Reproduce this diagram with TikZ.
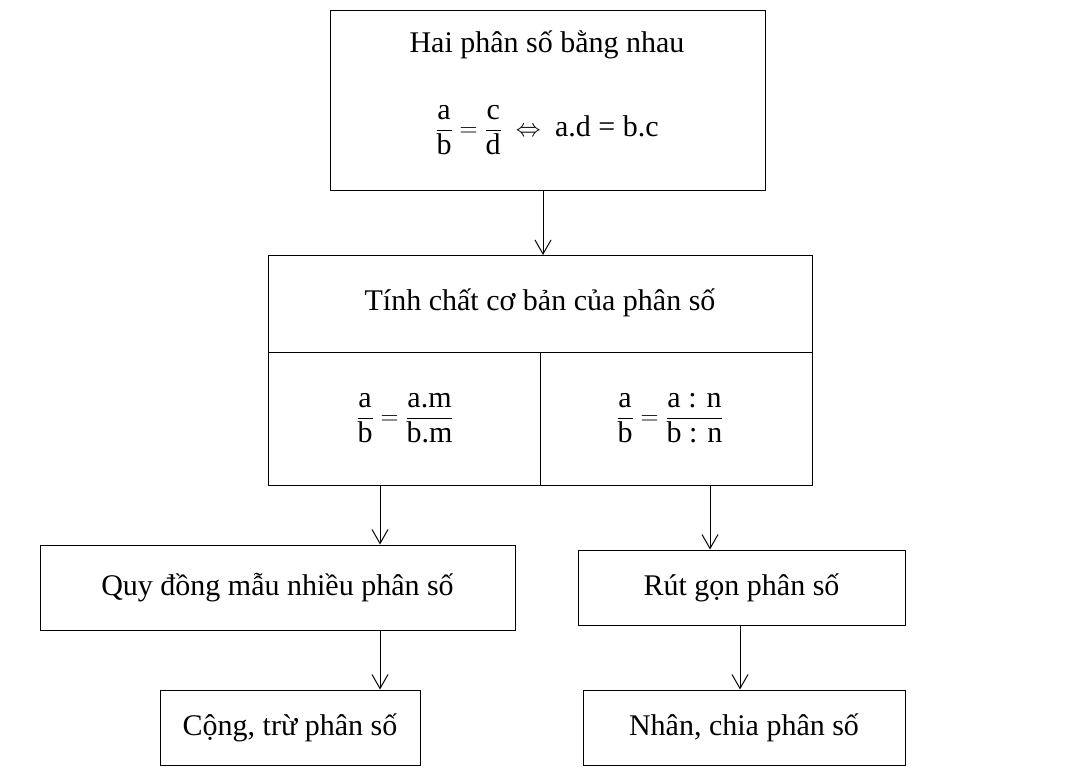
\documentclass[tikz,border=0pt]{standalone}
\usepackage{amsmath}
\usepackage{fontspec}
\setmainfont{Liberation Serif}
\usetikzlibrary{arrows.meta}
\newcommand{\fr}[2]{\dfrac{\text{#1}}{\text{#2}}}
\begin{document}
\begin{tikzpicture}[x=1pt,y=-1pt,
  bx/.style={draw,line width=1pt},
  ar/.style={-{Straight Barb[length=14pt,width=16pt,line width=1pt]},line width=1pt},
  tx/.style={font=\fontsize{30}{36}\selectfont}]
\useasboundingbox (0,0) rectangle (1073,779);
\draw[bx] (330,10) rectangle (765,190);
\node[tx] (t1) at (547,45) {Hai phân số bằng nhau};
\node[tx] (t2) at (547,130) {$\fr{a}{b}=\fr{c}{d}\;\Leftrightarrow\;$ a.d = b.c};
\coordinate (a1) at (543,190); \coordinate (a2) at (543,255);
\draw[ar] (a1) -- (a2);
\draw[bx] (268,255) rectangle (812,485);
\draw[bx] (268,352) -- (812,352);
\draw[bx] (540,352) -- (540,485);
\node[tx] (m1) at (540,303) {Tính chất cơ bản của phân số};
\node[tx] (m2) at (405,418) {$\fr{a}{b}=\fr{a.m}{b.m}$};
\node[tx] (m3) at (670,418) {$\fr{a}{b}=\fr{a : n}{b : n}$};
\coordinate (b1) at (380,485); \coordinate (c1) at (710,485);
\node[bx,tx,minimum width=475pt,minimum height=85pt] (q) at (277.5,587.5) {Quy đồng mẫu nhiều phân số};
\node[bx,tx,minimum width=327pt,minimum height=75pt] (r) at (741.5,587.5) {Rút gọn phân số};
\draw[ar] (b1) -- (b1 |- q.north);
\draw[ar] (c1) -- (c1 |- r.north);
\node[bx,tx,minimum width=260pt,minimum height=75pt] (c) at (290,727.5) {Cộng, trừ phân số};
\node[bx,tx,minimum width=322pt,minimum height=75pt] (n) at (744,727.5) {Nhân, chia phân số};
\coordinate (q1) at (380,630); \coordinate (r1) at (740,625);
\draw[ar] (q1) -- (q1 |- c.north);
\draw[ar] (r1) -- (r1 |- n.north);
\end{tikzpicture}
\end{document}
